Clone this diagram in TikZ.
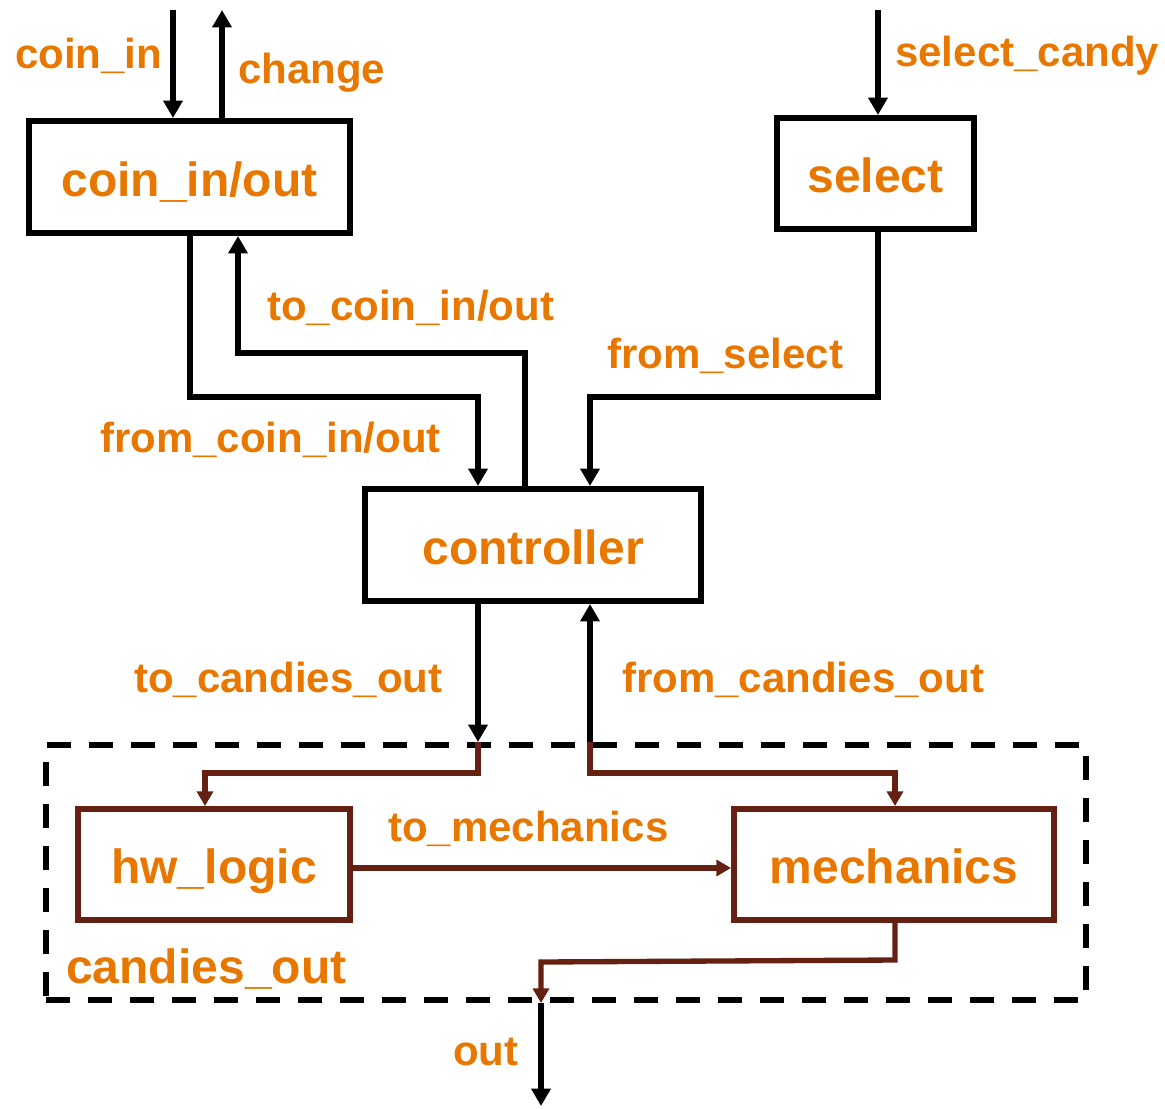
\documentclass[tikz,border=0pt]{standalone}
\usepackage{fontspec}
\setmainfont{Liberation Sans}
\usetikzlibrary{arrows.meta}
\definecolor{lbl}{RGB}{232,119,0}
\definecolor{brn}{RGB}{100,32,16}
\begin{document}
\begin{tikzpicture}[x=0.75pt,y=-0.75pt,
  blk/.style={draw=black,line width=4.5pt,inner sep=0,text=lbl,
    text height=30pt,text depth=1.5pt,
    font=\fontsize{36}{40}\selectfont\bfseries},
  subblk/.style={blk,draw=brn},
  lab/.style={inner sep=0,anchor=west,text=lbl,
    font=\fontsize{31.5}{36}\selectfont\bfseries},
  wire/.style={line width=4pt,-{Triangle[length=13pt,width=14pt]}},
  bwire/.style={wire,draw=brn,line width=4pt,-{Triangle[length=11pt,width=12pt]}}]
\useasboundingbox (0,0) rectangle (1165,1108);

% column positions for the wires
\foreach \n/\v in {a/173,b/222,c/190,d/238,e/478,f/525,g/590,h/878,k/205,m/895,o/541}
  \coordinate (x\n) at (\v,0);

% blocks
\node[blk,minimum width=240.75pt,minimum height=84pt] (coin) at (189.5,177) {coin\_in/out};
\node[blk,minimum width=147.75pt,minimum height=83.25pt] (sel) at (875.5,173.5) {select};
\node[blk,minimum width=252pt,minimum height=84pt] (ctrl) at (533,545) {controller};
\node[draw,line width=4.5pt,dash pattern=on 18pt off 13.5pt,minimum width=780pt,minimum height=191.25pt,inner sep=0] (cand) at (566,872.5) {};
\node[subblk,minimum width=204pt,minimum height=83.25pt] (hw) at (214,864.5) {hw\_logic};
\node[subblk,minimum width=240pt,minimum height=83.25pt] (mech) at (894,864.5) {mechanics};

% free ends
\coordinate (cinT) at (173,10);
\coordinate (chgT) at (222,10);
\coordinate (selT) at (878,10);
\coordinate (outB) at (541,1106);

% outer ports
\draw[wire] (cinT) -- (coin.north -| xa);
\draw[wire] (coin.north -| xb) -- (chgT);
\draw[wire] (selT) -- (sel.north -| xh);

% coin_in/out <-> controller
\draw[wire] (coin.south -| xc) |- (478,397) -- (ctrl.north -| xe);
\draw[wire] (ctrl.north -| xf) -- (525,353) -| (coin.south -| xd);
\draw[wire] (sel.south -| xh) |- (590,397) -- (ctrl.north -| xg);

% controller <-> candies_out
\draw[wire] (ctrl.south -| xe) -- (cand.north -| xe);
\draw[wire] (cand.north -| xg) -- (ctrl.south -| xg);
\draw[bwire] (cand.north -| xe) -- (478,773) -| (hw.north -| xk);
\draw[bwire] (cand.north -| xg) -- (590,773) -| (mech.north -| xm);
\draw[bwire] (hw.east |- 0,868) -- (mech.west |- 0,868);
\draw[bwire] (mech.south -| xm) -- (895,960) -- (541,962) -- (cand.south -| xo);
\draw[wire] (cand.south -| xo) -- (outB);

% labels
\node[lab] (l1) at (15,56) {coin\_in};
\node[lab] (l2) at (238,73) {change};
\node[lab] (l3) at (895,56) {select\_candy};
\node[lab] (l4) at (267,308) {to\_coin\_in/out};
\node[lab] (l5) at (100,440) {from\_coin\_in/out};
\node[lab] (l6) at (607,356) {from\_select};
\node[lab] (l7) at (134,680) {to\_candies\_out};
\node[lab] (l8) at (622,680) {from\_candies\_out};
\node[lab] (l9) at (388,829) {to\_mechanics};
\node[lab,font=\fontsize{36}{40}\selectfont\bfseries] (l10) at (66,969) {candies\_out};
\node[lab] (l11) at (453,1052) {out};
\end{tikzpicture}
\end{document}
